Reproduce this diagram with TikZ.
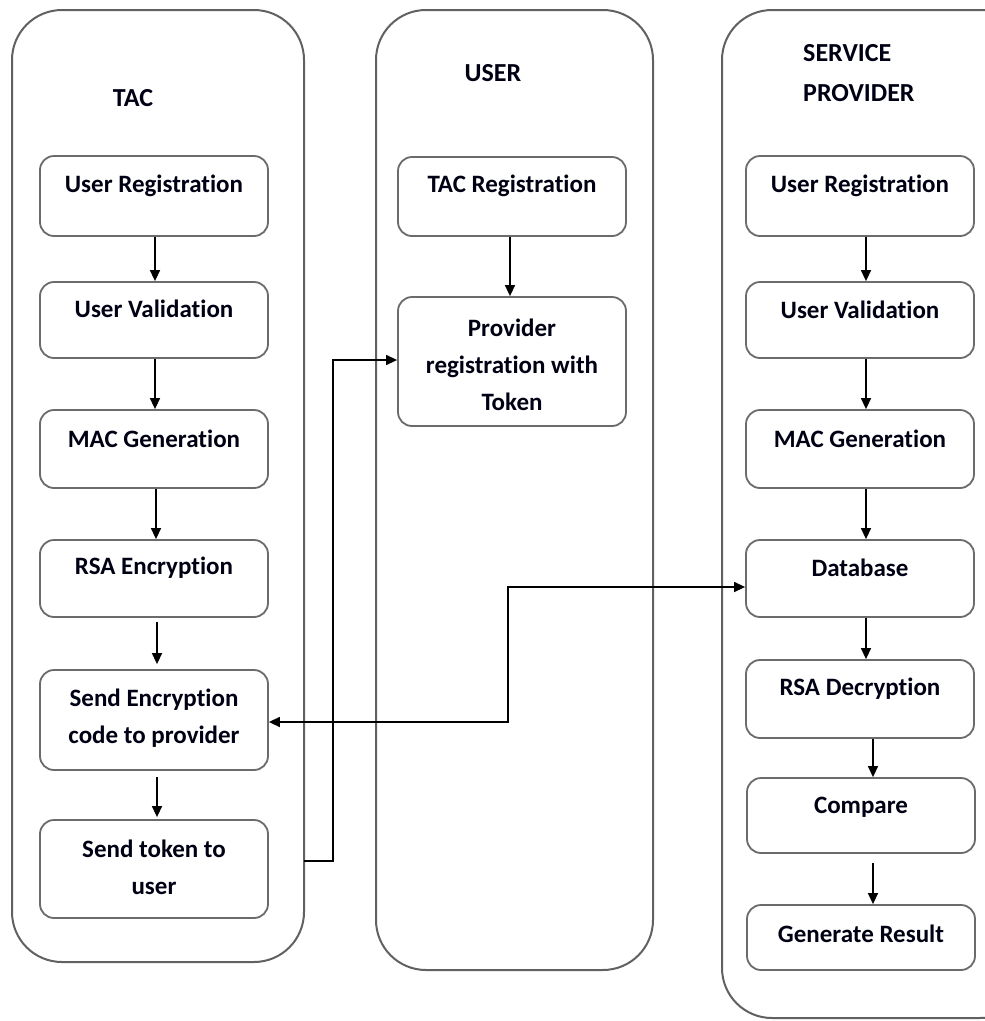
\documentclass[tikz,border=0pt]{standalone}
\usepackage{fontspec}
\setmainfont{Carlito}[Ligatures={NoCommon,NoContextual}]
\usetikzlibrary{arrows.meta,calc}
\tikzset{
  lane/.style={draw=black!62, line width=2pt, rounded corners=50pt},
  stepbox/.style={draw=black!58, line width=1.8pt, rounded corners=14pt, minimum width=228pt, inner sep=0pt},
  txt/.style={font=\fontsize{25}{37}\selectfont\bfseries, align=center, inner sep=0pt, text=black!92!blue},
  ttl/.style={font=\fontsize{26}{40}\selectfont\bfseries, align=left, inner sep=0pt, text=black!92!blue},
  arr/.style={line width=1.4pt, -{Triangle[length=11pt,width=10pt]}},
  biarr/.style={line width=1.4pt, {Triangle[length=11pt,width=10pt]}-{Triangle[length=11pt,width=10pt]}}
}
\begin{document}
\begin{tikzpicture}[x=1pt,y=-1pt]
\useasboundingbox (0,0) rectangle (985,1021);
\clip (0,0) rectangle (985,1021);
\fill[white] (0,0) rectangle (985,1021);
% lanes
\draw[lane] (12,10) rectangle (304,962);
\draw[lane] (376,10) rectangle (653,970);
\draw[lane] (722,10) rectangle (1030,1018);
% titles
\node[ttl] (tTAC) at (133,98) {TAC};
\node[ttl] (tUSER) at (493,73) {USER};
\node[ttl, anchor=west] (tSP) at (803,73) {SERVICE\\PROVIDER};
% TAC boxes
\node[stepbox, minimum height=80pt] (a1) at (154,196) {};
\node[stepbox, minimum height=76pt] (a2) at (154,320) {};
\node[stepbox, minimum height=78pt] (a3) at (154,449) {};
\node[stepbox, minimum height=77pt] (a4) at (154,578.5) {};
\node[stepbox, minimum height=100pt] (a5) at (154,720) {};
\node[stepbox, minimum height=98pt] (a6) at (154,869) {};
\node[txt] (a1t) at ([yshift=-31pt]a1.north) {User Registration};
\node[txt] (a2t) at ([yshift=-28pt]a2.north) {User Validation};
\node[txt] (a3t) at ([yshift=-30pt]a3.north) {MAC Generation};
\node[txt] (a4t) at ([yshift=-29pt]a4.north) {RSA Encryption};
\node[txt] (a5t) at ([yshift=-49pt]a5.north) {Send Encryption\\code to provider};
\node[txt] (a6t) at ([yshift=-48pt]a6.north) {Send token to\\user};
% USER boxes
\node[stepbox, minimum height=79pt] (b1) at (512,196.5) {};
\node[stepbox, minimum height=129pt] (b2) at (512,361.5) {};
\node[txt] (b1t) at ([yshift=-30pt]b1.north) {TAC Registration};
\node[txt] (b2t) at ([yshift=-69pt]b2.north) {Provider\\registration with\\Token};
% SP boxes
\node[stepbox, minimum height=80pt] (c1) at (860,196) {};
\node[stepbox, minimum height=76pt] (c2) at (860,320) {};
\node[stepbox, minimum height=78pt] (c3) at (860,449) {};
\node[stepbox, minimum height=77pt] (c4) at (860,578.5) {};
\node[stepbox, minimum height=78pt] (c5) at (860,699) {};
\node[stepbox, minimum height=75pt] (c6) at (861,815.5) {};
\node[stepbox, minimum height=65pt] (c7) at (861,937.5) {};
\node[txt] (c1t) at ([yshift=-31pt]c1.north) {User Registration};
\node[txt] (c2t) at ([yshift=-29pt]c2.north) {User Validation};
\node[txt] (c3t) at ([yshift=-30pt]c3.north) {MAC Generation};
\node[txt] (c4t) at ([yshift=-29pt]c4.north) {Database};
\node[txt] (c5t) at ([yshift=-30pt]c5.north) {RSA Decryption};
\node[txt] (c6t) at ([yshift=-30pt]c6.north) {Compare};
\node[txt] (c7t) at ([yshift=-30pt]c7.north) {Generate Result};
% TAC arrows
\draw[arr] ([xshift=1pt]a1.south) -- ([xshift=1pt]a2.north);
\draw[arr] ([xshift=1pt]a2.south) -- ([xshift=1pt]a3.north);
\draw[arr] ([xshift=2pt]a3.south) -- ([xshift=2pt]a4.north);
\draw[arr] ([xshift=3pt,yshift=-4pt]a4.south) -- ([xshift=3pt,yshift=5pt]a5.north);
\draw[arr] ([xshift=3pt,yshift=-6pt]a5.south) -- ([xshift=3pt,yshift=2pt]a6.north);
% USER arrow
\draw[arr] ([xshift=-2pt]b1.south) -- ([xshift=-2pt]b2.north);
% SP arrows
\draw[arr] ([xshift=6pt]c1.south) -- ([xshift=6pt]c2.north);
\draw[arr] ([xshift=6pt]c2.south) -- ([xshift=6pt]c3.north);
\draw[arr] ([xshift=6pt]c3.south) -- ([xshift=6pt]c4.north);
\draw[arr] ([xshift=6pt]c4.south) -- ([xshift=6pt]c5.north);
\draw[arr] ([xshift=13pt]c5.south) -- ([xshift=12pt]c6.north);
\draw[arr] ([xshift=12pt,yshift=-9pt]c6.south) -- ([xshift=12pt]c7.north);
% cross-lane connectors
\coordinate (tk) at (304,861);
\draw[arr] (tk) -- ++(29,0) |- ([yshift=1.5pt]b2.west);
\draw[biarr] ([yshift=-2pt]a5.east) -- ++(239,0) |- ([yshift=-8.5pt]c4.west);
\end{tikzpicture}
\end{document}
